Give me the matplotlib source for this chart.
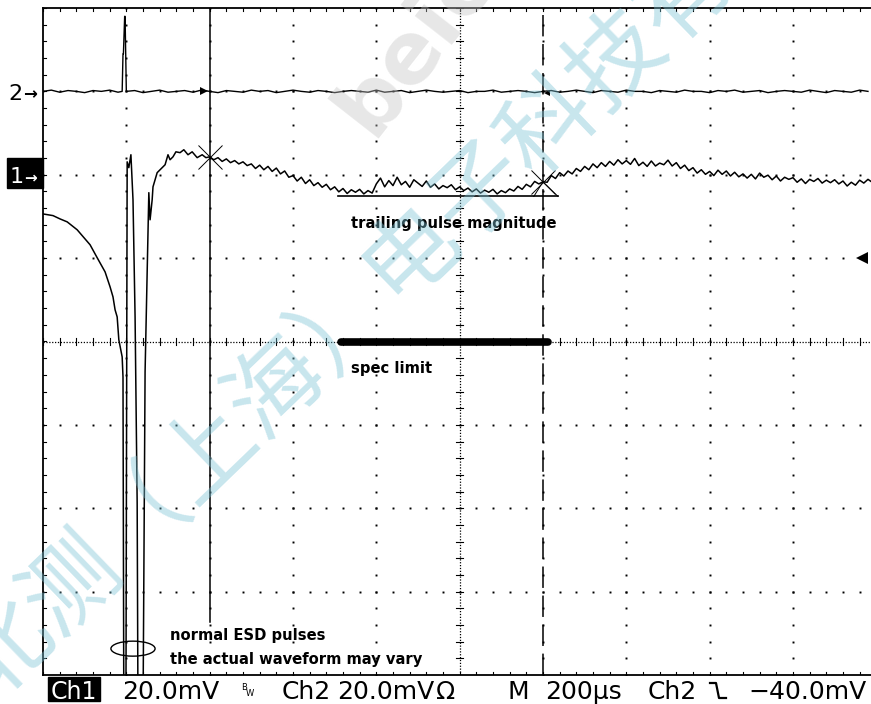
import numpy as np
import matplotlib.pyplot as plt
from matplotlib.patches import Ellipse, Rectangle

W, H = 871, 704

# scope setup
volts_div = 20.0     # mV/div, both channels
time_div = 200.0     # us/div
ch1_ground = 2.0     # ground marker, divisions above centre
ch2_ground = 3.0
trig_level = -40.0   # mV on ch2
cursor_t = [400, 1200]
trailing_mv = -5.2   # trailing pulse level on ch1
spec_mv = -40.0      # spec limit on ch1

# Ch1 – decay before the discharge and the two ESD pulses (irregular samples)
ch1_head_t = [0, 24, 41, 58, 82, 113, 130, 149, 161, 168, 173, 178, 182, 190, 192, 194,
              199, 202, 206, 211, 216, 221, 226, 228, 240, 245, 250, 252, 254, 257, 262,
              264, 269, 274, 281, 286, 293, 300, 305, 312, 319, 329, 338, 348, 358, 370,
              382, 391]
ch1_head_mv = [-9.4, -9.8, -10.6, -11.3, -13.2, -16.8, -19.9, -23.3, -26.9, -29.3, -32.4,
               -34.1, -39.6, -43.7, -48.5, -130, -130, 3.1, 1.7, 4.8, -6.0, -34.1, -78.7,
               -130, -130, -47.3, -22.8, -13.2, -4.3, -10.8, -6.0, -2.9, -1.2, 0.5, 1.2,
               1.7, 2.4, 4.8, 3.6, 4.3, 5.5, 5.3, 6.0, 4.8, 5.5, 4.1, 4.8, 4.1]

# Ch1 – slow tail, one sample every 10 us from 400 us
ch1_tail_dt = 10
ch1_tail_t0 = 400
ch1_tail_mv = [
    4.3, 3.6, 4.1, 3.2, 3.8, 2.9, 3.4, 2.6, 3.1, 2.2,
    2.6, 1.5, 2.3, 1.2, 2.0, 0.8, 1.6, 0.2, 0.9, -0.6,
    -0.2, -1.5, -0.6, -2.1, -1.2, -2.6, -1.9, -3.0, -2.3, -3.6,
    -2.9, -4.1, -3.3, -4.5, -3.6, -4.2, -3.5, -4.6, -3.8, -4.4,
    -2.2, -0.8, -2.9, -1.4, -2.6, -0.6, -2.4, -1.6, -3.0, -1.2,
    -2.0, -2.8, -1.5, -3.0, -2.2, -3.4, -2.6, -3.1, -2.4, -3.6,
    -2.9, -3.8, -3.2, -4.1, -3.4, -4.4, -3.7, -4.2, -3.5, -4.6,
    -3.8, -4.3, -3.4, -3.9, -2.8, -3.5, -2.3, -2.9, -1.6, -2.2,
    -1.7, -1.8, -0.2, -0.9, 0.5, -0.3, 0.9, 0.2, 1.5, 0.8,
    2.0, 1.2, 2.6, 1.7, 2.9, 2.0, 3.2, 2.3, 3.6, 2.6,
    3.4, 2.5, 3.9, 2.2, 3.0, 2.0, 3.3, 2.1, 2.8, 2.4,
    3.5, 2.1, 2.9, 1.5, 2.3, 1.0, 1.7, 0.4, 1.2, 0.1,
    0.8, -0.2, 1.1, 0.1, 0.9, -0.3, 0.6, -0.5, 0.2, -0.8,
    0.1, -1.0, 0.4, -0.6, -0.1, -1.2, -0.3, -1.5, -0.6, -1.1,
    -0.7, -1.8, -1.0, -2.1, -1.1, -1.6, -0.9, -2.0, -1.3, -1.9,
    -1.2, -2.2, -1.5, -2.7, -1.8, -2.5, -1.3, -2.0, -1.1, -1.8,
]

# Ch2 – trigger channel, quiet apart from the pickup spike
ch2_dt = 20
ch2_mv = [
    0.0, 0.3, -0.2, 0.2, 0.0, -0.3, 0.2, 0.0, 0.3, -0.2,
    0.0, 0.2, -0.3, 0.0, 0.3, -0.2, 0.0, 0.2, -0.2, 0.3,
    0.0, -0.3, 0.2, 0.0, -0.2, 0.3, 0.0, 0.2, -0.3, 0.0,
    0.3, 0.0, -0.2, 0.2, 0.0, -0.3, 0.0, 0.2, 0.0, -0.2,
    0.3, -0.2, 0.0, 0.2, -0.3, 0.0, 0.3, 0.0, -0.2, 0.0,
    0.2, -0.3, 0.0, 0.0, 0.3, -0.2, 0.0, 0.2, 0.0, -0.3,
    0.0, 0.2, -0.2, 0.0, 0.3, 0.0, -0.3, 0.2, 0.0, -0.2,
    0.3, 0.0, 0.0, -0.3, 0.2, 0.0, -0.2, 0.3, 0.0, 0.0,
    -0.3, 0.2, 0.0, 0.3, -0.2, 0.0, 0.2, -0.3, 0.0, 0.2,
    0.0, -0.2, 0.3, 0.0, -0.3, 0.2, 0.0, -0.2, 0.3, 0.0,
]
ch2_spike_t = [190, 192, 193, 196, 197, 200]
ch2_spike_mv = [0.0, 9.0, 9.0, 18.0, 18.0, 0.0]

status = [("20.0mV", 122), ("Ch2", 282), ("20.0mV", 337), ("Ω", 436), ("M", 507),
          ("200µs", 545), ("Ch2", 648), ("−40.0mV", 748)]


def px(x, y):
    return x / W, 1 - y / H


# assemble traces in screen divisions
ch1_t = np.concatenate([ch1_head_t, ch1_tail_t0 + ch1_tail_dt * np.arange(len(ch1_tail_mv))])
ch1_v = np.concatenate([ch1_head_mv, ch1_tail_mv])
ch2_t = ch2_dt * np.arange(len(ch2_mv))
keep = (ch2_t < ch2_spike_t[0]) | (ch2_t > ch2_spike_t[-1])
ch2_t = np.concatenate([ch2_t[keep], ch2_spike_t])
ch2_v = np.concatenate([np.array(ch2_mv)[keep], ch2_spike_mv])
order = np.argsort(ch2_t, kind='stable')
ch2_t, ch2_v = ch2_t[order], ch2_v[order]

fig = plt.figure(figsize=(W / 100, H / 100), dpi=100)
ax = fig.add_axes([43 / W, (H - 675) / H, 833.3 / W, 667 / H])
ax.set_xlim(0, 10)
ax.set_ylim(-4, 4)
ax.set_xticks([])
ax.set_yticks([])
for s in ax.spines.values():
    s.set_linewidth(1.3)

# graticule
minor_x = np.arange(0, 10.001, 0.2)
minor_y = np.arange(-4, 4.001, 0.2)
for gx in range(1, 10):
    if gx != 5:
        ax.plot(np.full_like(minor_y, gx), minor_y, ls='none', marker='s', ms=1.4,
                mew=0, color='k')
for gy in range(-3, 4):
    if gy != 0:
        ax.plot(minor_x, np.full_like(minor_x, gy), ls='none', marker='s', ms=1.4,
                mew=0, color='k')
ax.axvline(5, color='k', lw=0.9, ls=(0, (1, 1.3)))
ax.axhline(0, color='k', lw=0.9, ls=(0, (1, 1.3)))
for yy in minor_y:
    ax.plot([4.96, 5.04], [yy, yy], color='k', lw=0.8)
    ax.plot([0.0, 0.04], [yy, yy], color='k', lw=0.8)
for xx in minor_x:
    ax.plot([xx, xx], [-0.04, 0.04], color='k', lw=0.8)
    ax.plot([xx, xx], [3.96, 3.995], color='k', lw=0.8)
    ax.plot([xx, xx], [-3.995, -3.96], color='k', lw=0.8)

# traces
ax.plot(ch2_t / time_div, ch2_ground + ch2_v / volts_div, color='k', lw=1.0)
ax.plot(ch1_t / time_div, ch1_ground + ch1_v / volts_div, color='k', lw=1.1)

# cursors
c1, c2 = [t / time_div for t in cursor_t]
ax.plot([c1, c1], [4, -3.37], color='k', lw=1.1)
ax.axvline(c2, color='k', lw=1.1, ls=(0, (14, 5)))
cur_v = np.interp(cursor_t, ch1_t, ch1_v)
ax.plot([c1, c2], ch1_ground + cur_v / volts_div, ls='none', marker='x', ms=17,
        mew=0.7, color='k')
ax.plot(c1 - 0.07, ch2_ground, marker='>', ms=6, color='k', mew=0)
ax.plot(c2 + 0.05, ch2_ground - 0.02, marker='<', ms=5, color='k', mew=0)
ax.plot(9.83, ch2_ground + trig_level / volts_div, marker='<', ms=9, color='k', mew=0,
        clip_on=False)

note = dict(fontsize=10.6, weight='bold', va='center', ha='left')

# trailing pulse magnitude
ty = ch1_ground + trailing_mv / volts_div
ax.plot([3.54, 6.18], [ty, ty], color='k', lw=1.2)
cy = ch1_ground + cur_v[1] / volts_div
ax.plot([c2 - 0.11, c2, c2 + 0.18], [ty, cy, ty], color='k', lw=0.7)
ax.text(3.7, ty - 0.33, "trailing pulse magnitude", **note)

# spec limit
sy = ch1_ground + spec_mv / volts_div
ax.plot([3.58, 6.06], [sy, sy], color='k', lw=5.5, solid_capstyle='round')
ax.text(3.7, sy - 0.32, "spec limit", **note)

# ESD pulse note
ax.add_patch(Ellipse((1.08, -3.684), 0.53, 0.18, fill=False, lw=1.0, color='k'))
ax.text(1.52, -3.53, "normal ESD pulses", **note)
ax.text(1.52, -3.82, "the actual waveform may vary", **note)

# ground markers
fig.text(*px(8, 100), "2", fontsize=16, va='baseline', ha='left')
fig.text(*px(23, 99), "→", fontsize=12, weight='bold', va='baseline', ha='left')
fig.patches.append(Rectangle(px(7, 188), 36 / W, 30 / H, transform=fig.transFigure,
                             color='k'))
fig.text(*px(10, 183), "1", fontsize=16, color='w', va='baseline', ha='left')
fig.text(*px(24, 182), "→", fontsize=11, weight='bold', color='w', va='baseline',
         ha='left')

# status line
fig.patches.append(Rectangle(px(48, 701), 52 / W, 24 / H, transform=fig.transFigure,
                             color='k'))
fig.text(*px(51, 699), "Ch1", fontsize=17, color='w', va='baseline')
for label, x in status:
    fig.text(*px(x, 699), label, fontsize=18, va='baseline')
fig.text(*px(241, 690), "B", fontsize=6, va='baseline')
fig.text(*px(246, 696), "W", fontsize=6, va='baseline')
fig.lines.append(plt.Line2D([p / W for p in (710, 716, 719, 726)],
                            [1 - p / H for p in (683, 683, 698, 698)],
                            transform=fig.transFigure, color='k', lw=1.6))

# watermark
fig.text(*px(-28, 683), "北测（上海）电子科技有限公司", fontsize=68, rotation=44,
         rotation_mode='anchor', ha='left', va='center', color='#7cc3d6', alpha=0.42,
         family=['Noto Sans CJK SC', 'DejaVu Sans'], zorder=10)
fig.text(*px(372, 138), "beice", fontsize=62, rotation=52, rotation_mode='anchor',
         ha='left', va='baseline', weight='bold', color='#c4c4c4', alpha=0.4, zorder=10)

fig.savefig("out.png", dpi=100)
